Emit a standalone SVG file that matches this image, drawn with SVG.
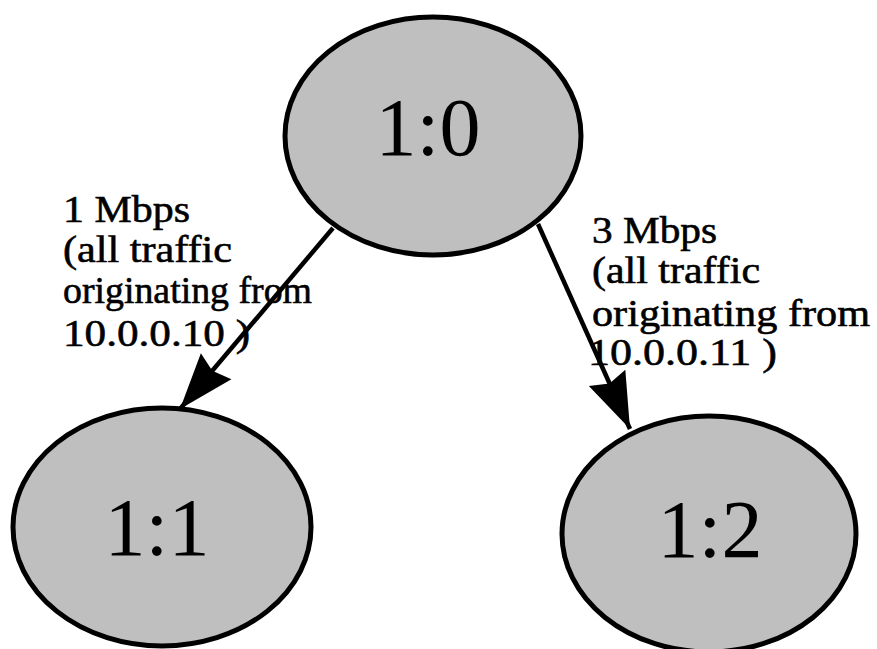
<svg xmlns="http://www.w3.org/2000/svg" width="877" height="649" viewBox="0 0 877 649">
  <style>
    .node ellipse { fill: #bfbfbf; stroke: #000; stroke-width: 5; }
    .node text { font-family: "Liberation Serif", "Times New Roman", serif; font-size: 82px; fill: #000; text-anchor: middle; }
    .edge { stroke: #000; stroke-width: 4.5; fill: none; marker-end: url(#head); }
    .label { font-family: "Liberation Serif", "Times New Roman", serif; font-size: 38px; fill: #000; stroke: #000; stroke-width: 0.6; }
  </style>
  <defs>
    <marker id="head" markerUnits="userSpaceOnUse" markerWidth="64" markerHeight="50" viewBox="-60 -24 64 48" refX="0" refY="0" orient="auto">
      <path d="M0,0 L-56,-20 L-50,0 L-56,20 Z" fill="#000"/>
    </marker>
  </defs>
  <rect width="877" height="649" fill="#fff"/>

  <g id="edges">
    <line class="edge" x1="333" y1="228" x2="180" y2="409"/>
    <line class="edge" x1="538" y1="224" x2="630" y2="429"/>
  </g>

  <g id="node-1-0" class="node">
    <ellipse cx="433" cy="136" rx="148" ry="119"/>
    <text x="428" y="155">1:0</text>
  </g>
  <g id="node-1-1" class="node">
    <ellipse cx="162" cy="527" rx="149" ry="119"/>
    <text x="157" y="555">1:1</text>
  </g>
  <g id="node-1-2" class="node">
    <ellipse cx="709" cy="534" rx="147" ry="118"/>
    <text x="710" y="557">1:2</text>
  </g>

  <g id="label-1-1">
    <text class="label" x="63" y="222" textLength="127" lengthAdjust="spacingAndGlyphs">1 Mbps</text>
    <text class="label" x="63" y="262" textLength="169" lengthAdjust="spacingAndGlyphs">(all traffic</text>
    <text class="label" x="63" y="303" textLength="249" lengthAdjust="spacingAndGlyphs">originating from</text>
    <text class="label" x="63" y="346" textLength="187" lengthAdjust="spacingAndGlyphs">10.0.0.10 )</text>
  </g>
  <g id="label-1-2">
    <text class="label" x="592" y="243" textLength="125" lengthAdjust="spacingAndGlyphs">3 Mbps</text>
    <text class="label" x="592" y="283" textLength="168" lengthAdjust="spacingAndGlyphs">(all traffic</text>
    <text class="label" x="592" y="326" textLength="278" lengthAdjust="spacingAndGlyphs">originating from</text>
    <text class="label" x="588" y="365" textLength="189" lengthAdjust="spacingAndGlyphs">10.0.0.11 )</text>
  </g>
</svg>
